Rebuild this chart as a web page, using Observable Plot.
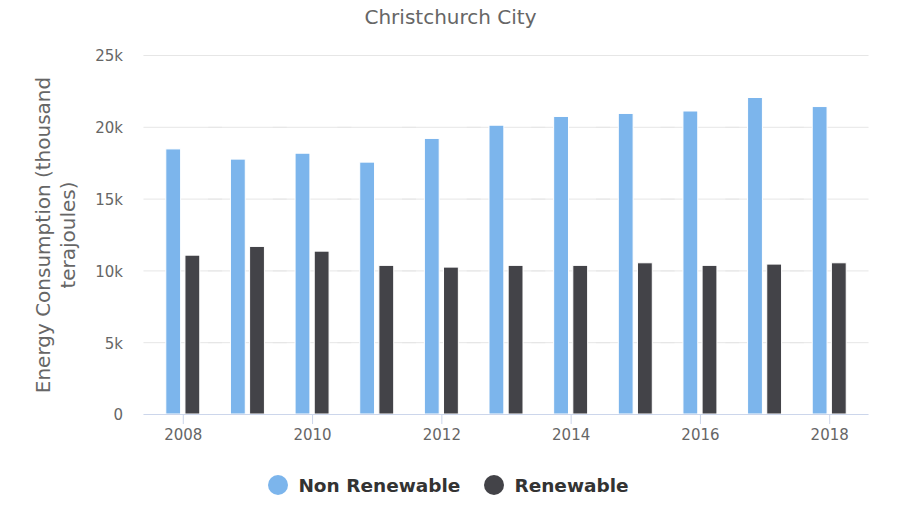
<!DOCTYPE html>
<html>
<head>
<meta charset="utf-8">
<script src="https://cdn.jsdelivr.net/npm/d3@7"></script>
<script src="https://cdn.jsdelivr.net/npm/@observablehq/plot@0.6"></script>
<style>
  body { margin: 0; background: #fff; }
  #wrap { width: 897px; height: 508px; position: relative; font-family: "DejaVu Sans", sans-serif; }
  #title { height: 40px; box-sizing: border-box; padding-top: 7px; line-height: 20px; font-size: 20px; color: #666; text-align: center; padding-left: 4px; }
  #legend { height: 26px; display: flex; align-items: center; justify-content: center; font-size: 18.5px; font-weight: bold; color: #333; padding-left: 0px; }
  .item { display: flex; align-items: center; margin: 0 12px; }
  .dot { width: 20px; height: 20px; border-radius: 50%; margin-right: 10px; }
</style>
</head>
<body>
<div id="wrap">
  <div id="title"></div>
  <div id="chart"></div>
  <div id="legend"></div>
</div>
<script>
const title = "Christchurch City";
const yLabel = "Energy Consumption (thousand\nterajoules)";
const years = [2008, 2009, 2010, 2011, 2012, 2013, 2014, 2015, 2016, 2017, 2018];
const seriesNames = ["Non Renewable", "Renewable"];
const seriesColors = ["#7cb5ec", "#434348"];
const nonRenewable = [18460, 17750, 18160, 17540, 19190, 20110, 20720, 20930, 21100, 22040, 21410];
const renewable = [11060, 11670, 11340, 10350, 10230, 10350, 10350, 10530, 10350, 10440, 10530];
const yTicks = [0, 5000, 10000, 15000, 20000, 25000];
const xTicks = [2008, 2010, 2012, 2014, 2016, 2018];

const data = [];
years.forEach((yr, i) => {
  data.push({year: yr, series: seriesNames[0], value: nonRenewable[i]});
  data.push({year: yr, series: seriesNames[1], value: renewable[i]});
});

document.getElementById("title").textContent = title;

const fmt = d => d === 0 ? "0" : (d / 1000) + "k";

const chart = Plot.plot({
  width: 897,
  height: 432,
  marginTop: 15,
  marginBottom: 58,
  marginLeft: 144,
  marginRight: 29,
  style: {fontFamily: "DejaVu Sans, sans-serif", fontSize: "15px", color: "#666", background: "#fff"},
  fx: {domain: years, paddingInner: 0, paddingOuter: 0.1, round: false},
  x: {domain: seriesNames, paddingInner: 0.226, paddingOuter: 0.8, round: false, axis: null},
  y: {domain: [0, 25000], axis: null},
  color: {domain: seriesNames, range: seriesColors},
  marks: [
    Plot.ruleY(yTicks.slice(1), {stroke: "#e6e6e6", strokeWidth: 1, insetLeft: -7, insetRight: -7}),
    Plot.barY(data, {fx: "year", x: "series", y: "value", fill: "series", stroke: "#fff", strokeWidth: 1}),
    Plot.ruleY([0], {stroke: "#ccd6eb", strokeWidth: 1, insetLeft: -7, insetRight: -7}),
    Plot.axisY({ticks: yTicks, tickFormat: fmt, tickSize: 0, tickPadding: 28, label: null, fill: "#666", fontSize: 15, dy: 1}),
    Plot.axisFx({ticks: xTicks, tickFormat: d => String(d), tickSize: 10, tickPadding: 5, label: null, stroke: "#ccd6eb", fill: "#666", fontSize: 15, anchor: "bottom"}),
    Plot.text([yLabel], {facet: "super", frameAnchor: "left", rotate: -90, dx: -96, fontSize: 20, lineHeight: 1.25, fill: "#666", textAnchor: "middle"})
  ]
});
document.getElementById("chart").appendChild(chart);

const legend = document.getElementById("legend");
seriesNames.forEach((name, i) => {
  const item = document.createElement("div");
  item.className = "item";
  const dot = document.createElement("span");
  dot.className = "dot";
  dot.style.background = seriesColors[i];
  const label = document.createElement("span");
  label.textContent = name;
  item.appendChild(dot);
  item.appendChild(label);
  legend.appendChild(item);
});
</script>
</body>
</html>
